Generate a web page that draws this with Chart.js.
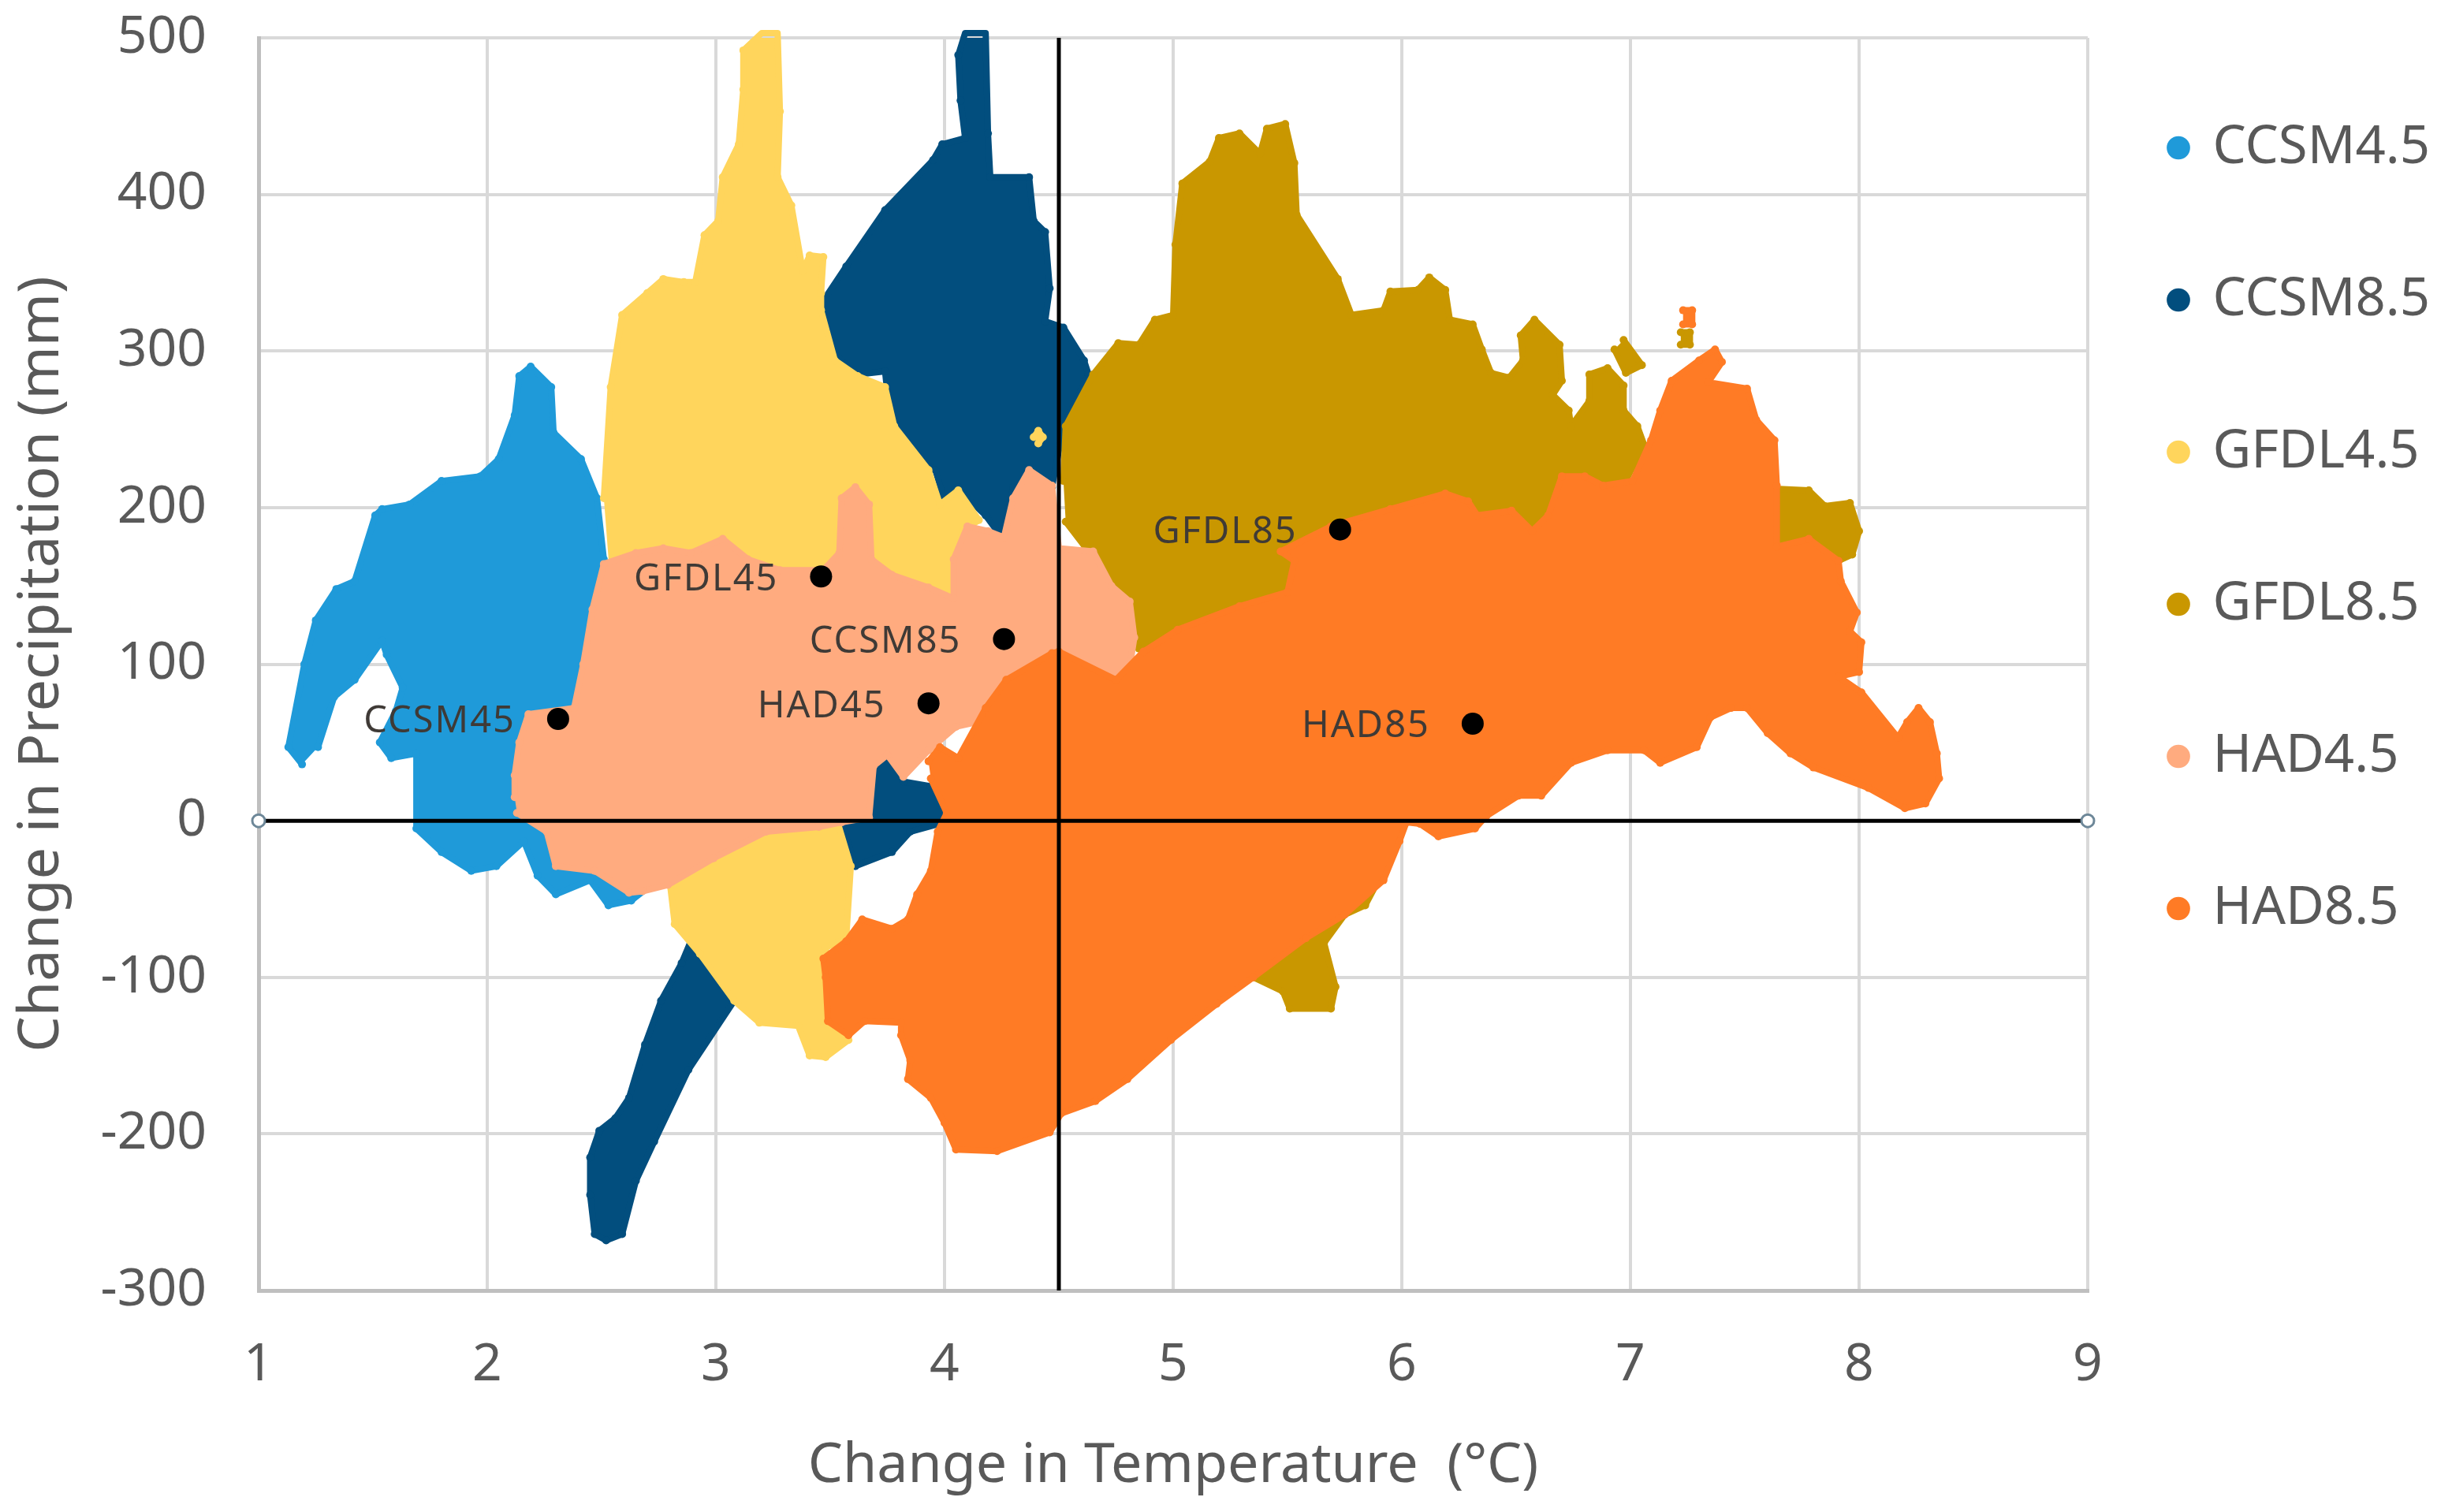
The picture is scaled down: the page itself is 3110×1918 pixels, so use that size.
<!DOCTYPE html>
<html>
<head>
<meta charset="utf-8">
<title>Change in temperature and precipitation</title>
<script src="https://cdn.jsdelivr.net/npm/chart.js@4/dist/chart.umd.min.js"></script>
<style>
  html, body { margin: 0; padding: 0; background: #fff; }
  canvas { display: block; }
</style>
</head>
<body>
<canvas id="scatter" width="3110" height="1918"></canvas>
<script>
const ccsm45 = [[1.19,36],[1.13,47],[1.20,100],[1.25,128],[1.34,148],[1.42,153],[1.51,195],[1.54,199],[1.66,202],[1.80,217],[1.97,220],[2.05,231],[2.12,259],[2.14,284],[2.19,290],[2.28,277],[2.29,248],[2.41,231],[2.48,206],[2.51,167],[2.48,135],[2.41,72],[2.55,20],[2.70,-43],[2.63,-51],[2.53,-54],[2.45,-38],[2.30,-47],[2.22,-35],[2.16,-13],[2.04,-29],[1.93,-32],[1.80,-20],[1.69,-5],[1.69,43],[1.58,40],[1.53,50],[1.60,70],[1.63,85],[1.56,106],[1.54,115],[1.42,90],[1.33,79],[1.26,47]];
const ccsm85 = [[3.46,330],[3.57,354],[3.74,390],[3.95,422],[3.99,432],[4.09,436],[4.07,460],[4.06,489],[4.09,503],[4.18,503],[4.19,439],[4.20,411],[4.37,411],[4.39,383],[4.44,376],[4.46,340],[4.44,319],[4.52,315],[4.61,294],[4.63,285],[4.52,252],[4.47,213],[4.30,213],[4.25,181],[4.18,195],[4.10,206],[4.06,213],[4.00,204],[3.96,224],[3.84,236],[3.76,259],[3.74,287],[3.62,285],[3.52,298],[3.47,312],
  null,[3.75,41],[3.69,33],[3.67,2],[3.55,-1],[3.61,-29],[3.77,-20],[3.85,-7],[4.0,-1],[4.0,10],[3.94,22],[3.82,25],
  null,[2.89,-77],[2.85,-91],[2.76,-115],[2.69,-143],[2.62,-177],[2.56,-190],[2.49,-198],[2.45,-215],[2.45,-239],[2.47,-264],[2.52,-268],[2.59,-264],[2.65,-230],[2.73,-205],[2.88,-159],[3.08,-115],[3.0,-100]];
const gfdl45 = [[2.51,206],[2.54,277],[2.59,323],[2.70,337],[2.77,346],[2.86,344],[2.91,344],[2.95,374],[3.01,383],[3.03,411],[3.10,432],[3.12,467],[3.12,492],[3.20,503],[3.27,503],[3.28,453],[3.27,411],[3.33,393],[3.38,351],[3.41,361],[3.47,360],[3.46,337],[3.46,326],[3.52,294],[3.62,284],[3.74,277],[3.78,252],[3.93,224],[3.98,202],[4.06,211],[4.15,192],[4.08,185],[4.04,164],[4.06,130],[3.2,120],[2.55,130],
  null,[3.52,5],[3.59,-29],[3.57,-75],[3.48,-81],[3.51,-119],[3.58,-140],[3.48,-151],[3.41,-150],[3.36,-131],[3.19,-129],[3.08,-115],[2.93,-85],[2.82,-66],[2.80,-41],[2.9,10],
  null,[4.39,245],[4.41,249],[4.43,245],[4.41,241]];
const gfdl85 = [[4.52,217],[4.53,252],[4.65,285],[4.76,305],[4.85,304],[4.92,320],[5.0,323],[5.01,368],[5.04,407],[5.16,421],[5.20,436],[5.29,439],[5.38,426],[5.41,442],[5.49,445],[5.53,420],[5.54,387],[5.72,346],[5.78,323],[5.92,326],[5.95,338],[6.07,339],[6.12,347],[6.19,339],[6.21,320],[6.31,317],[6.35,301],[6.39,286],[6.47,283],[6.53,294],[6.52,310],[6.58,320],[6.69,304],[6.70,281],[6.66,272],[6.73,262],[6.74,252],[6.82,268],[6.82,285],[6.90,289],[6.97,278],[6.97,262],[7.03,252],[7.06,240],[6.9,195],[6,170],[5.4,125],[4.95,100],[4.85,110],[4.80,135],[4.69,153],[4.63,172],[4.53,191],
  null,[6.97,307],[7.05,291],[6.98,286],[6.93,301],
  null,[7.22,312],[7.26,312],[7.26,304],[7.22,304],
  null,[7.63,212],[7.78,211],[7.85,201],[7.96,203],[8.0,185],[7.97,170],[7.91,166],[7.6,170],
  null,[5.92,-32],[5.84,-54],[5.75,-60],[5.66,-78],[5.71,-106],[5.69,-120],[5.51,-120],[5.48,-109],[5.35,-100],[5.66,-47]];
const had45 = [[2.12,15],[2.12,29],[2.14,50],[2.18,68],[2.38,72],[2.42,100],[2.46,135],[2.51,164],[2.65,171],[2.77,174],[2.89,171],[3.03,180],[3.14,167],[3.28,160],[3.47,160],[3.54,171],[3.55,206],[3.61,213],[3.67,202],[3.68,167],[3.77,157],[3.93,149],[4.04,142],[4.04,167],[4.10,188],[4.19,185],[4.26,181],[4.30,206],[4.37,224],[4.47,214],[4.5,174],[4.65,172],[4.73,150],[4.81,140],[4.83,117],[4.81,98],[4.75,90],[4.52,80],[4.36,70],[4.05,60],[3.93,45],[3.82,28],[3.75,42],[3.69,35],[3.67,2],[3.55,-1],[3.45,-4],[3.22,-7],[2.99,-24],[2.79,-41],[2.68,-45],[2.62,-46],[2.47,-32],[2.30,-29],[2.26,-7],[2.13,5]];
const had85 = [[3.93,38],[3.98,47],[4.06,40],[4.18,72],[4.27,90],[4.47,107],[4.5,108],[4.75,90],[4.87,108],[5.02,122],[5.29,137],[5.5,146],[5.53,166],[5.47,172],[5.69,188],[5.95,199],[6.19,209],[6.29,204],[6.33,195],[6.48,198],[6.57,185],[6.64,195],[6.70,220],[6.80,220],[6.88,214],[7.01,217],[7.09,243],[7.13,262],[7.18,281],[7.30,294],[7.37,301],[7.40,293],[7.34,280],[7.51,276],[7.55,256],[7.63,243],[7.64,214],[7.64,175],[7.78,180],[7.91,166],[7.92,153],[7.99,133],[7.96,121],[8.01,114],[8.0,95],[7.91,92],[8.01,82],[8.17,53],[8.21,63],[8.26,72],[8.31,63],[8.34,43],[8.35,27],[8.29,11],[8.20,8],[8.04,21],[7.80,34],[7.70,43],[7.60,56],[7.51,72],[7.44,72],[7.35,66],[7.29,47],[7.13,37],[7.06,45],[6.90,45],[6.74,37],[6.61,16],[6.51,16],[6.37,3],[6.32,-5],[6.16,-10],[6.08,-2],[6.02,-1],[5.99,-13],[5.92,-38],[5.75,-60],[5.58,-75],[5.35,-100],[5.19,-117],[4.99,-140],[4.80,-165],[4.66,-179],[4.51,-187],[4.46,-199],[4.23,-211],[4.05,-210],[4.0,-193],[3.94,-177],[3.84,-165],[3.85,-153],[3.81,-137],[3.81,-129],[3.65,-128],[3.58,-137],[3.49,-128],[3.48,-100],[3.47,-88],[3.57,-77],[3.64,-63],[3.77,-69],[3.84,-63],[3.88,-47],[3.94,-32],[3.97,-7],[4.01,5],[3.94,27],
  null,[7.23,326],[7.27,326],[7.27,317],[7.23,317]];

const seriesNames = ['CCSM4.5', 'CCSM8.5', 'GFDL4.5', 'GFDL8.5', 'HAD4.5', 'HAD8.5'];
const seriesColors = ['#1f9ad9', '#024e7e', '#ffd55c', '#c99700', '#ffab7f', '#ff7b25'];

// ensemble means with their labels
const meanNames = ['CCSM45', 'GFDL45', 'CCSM85', 'HAD45', 'GFDL85', 'HAD85'];
const meanTemp = [2.31, 3.46, 4.26, 3.93, 5.73, 6.31];
const meanPrecip = [65, 156, 116, 75, 186, 62];

// the two black lines crossing the plot
const crossH = [[1, 0], [9, 0]];
const crossV = [[4.5, -300], [4.5, 500]];

const toPoints = rows => rows.map(p => p ? { x: p[0], y: p[1] } : { x: null, y: null });

const textColor = '#595959';
const fontFamily = '"Noto Sans", "Open Sans", sans-serif';

const cloud = (rows, i) => ({
  label: seriesNames[i],
  data: toPoints(rows),
  showLine: true,
  fill: 'shape',
  clip: false,
  backgroundColor: seriesColors[i],
  borderColor: seriesColors[i],
  borderWidth: 8,
  borderJoinStyle: 'round',
  borderCapStyle: 'round',
  pointStyle: 'circle',
  pointRadius: 5,
  pointBorderWidth: 0,
  pointBackgroundColor: seriesColors[i],
  order: 10 - i   // later series sit on top
});

const meanLabels = {
  id: 'meanLabels',
  afterDatasetsDraw(chart) {
    const idx = chart.data.datasets.findIndex(d => d.label === 'means');
    const { ctx } = chart;
    ctx.save();
    ctx.font = '47px ' + fontFamily;
    ctx.letterSpacing = '2px';
    ctx.fillStyle = '#3f3a36';
    ctx.textAlign = 'right';
    ctx.textBaseline = 'middle';
    chart.getDatasetMeta(idx).data.forEach((pt, i) => {
      ctx.fillText(meanNames[i], pt.x - 54, pt.y + 4);
    });
    ctx.restore();
  }
};

// legend sits a bit away from the plot in the original
const legendPlace = {
  id: 'legendPlace',
  afterLayout(chart) {
    chart.legend.left = 2627;
    chart.legend.top = 28;
  }
};

new Chart(document.getElementById('scatter'), {
  type: 'scatter',
  data: {
    datasets: [
      cloud(ccsm45, 0),
      cloud(ccsm85, 1),
      cloud(gfdl45, 2),
      cloud(gfdl85, 3),
      cloud(had45, 4),
      cloud(had85, 5),
      {
        label: 'means',
        data: meanTemp.map((t, i) => ({ x: t, y: meanPrecip[i] })),
        pointRadius: 14,
        pointBackgroundColor: '#000',
        pointBorderWidth: 0,
        order: 1
      },
      {
        label: 'crossH',
        data: toPoints(crossH),
        showLine: true,
        clip: false,
        borderColor: '#000',
        borderWidth: 5,
        pointRadius: 8,
        pointBackgroundColor: '#fff',
        pointBorderColor: '#6d8798',
        pointBorderWidth: 3,
        order: 2
      },
      {
        label: 'crossV',
        data: toPoints(crossV),
        showLine: true,
        borderColor: '#000',
        borderWidth: 5,
        pointRadius: 0,
        order: 2
      }
    ]
  },
  options: {
    responsive: false,
    animation: false,
    layout: { padding: { top: 48, right: 0, bottom: 0, left: 0 } },
    scales: {
      x: {
        type: 'linear',
        min: 1,
        max: 9,
        afterFit: s => { s.height = 281; s.paddingLeft = 0; s.paddingRight = 0; },
        grid: { color: '#d9d9d9', lineWidth: 4, tickLength: 0 },
        border: { color: '#bfbfbf', width: 5 },
        ticks: { stepSize: 1, color: textColor, padding: 56, font: { size: 66, family: fontFamily } },
        title: { display: true, text: 'Change in Temperature  (°C)', color: textColor, padding: { top: 0, bottom: 16 }, font: { size: 70, family: fontFamily } }
      },
      y: {
        min: -300,
        max: 500,
        afterFit: s => { s.width = 328; s.paddingTop = 0; s.paddingBottom = 0; },
        grid: { color: '#d9d9d9', lineWidth: 4, tickLength: 0 },
        border: { color: '#bfbfbf', width: 5 },
        ticks: { stepSize: 100, color: textColor, padding: 66, font: { size: 66, family: fontFamily } },
        title: { display: true, text: 'Change in Precipitation (mm)', color: textColor, padding: { top: 10, bottom: 0 }, font: { size: 72, family: fontFamily } }
      }
    },
    plugins: {
      tooltip: { enabled: false },
      legend: {
        position: 'right',
        align: 'start',
        maxWidth: 462,
        labels: {
          usePointStyle: true,
          boxHeight: 21,
          boxWidth: 20,
          padding: 126,
          color: textColor,
          font: { size: 67, family: fontFamily },
          sort: (a, b) => a.datasetIndex - b.datasetIndex,
          filter: item => seriesNames.includes(item.text)
        }
      }
    }
  },
  plugins: [legendPlace, meanLabels]
});
</script>
</body>
</html>
